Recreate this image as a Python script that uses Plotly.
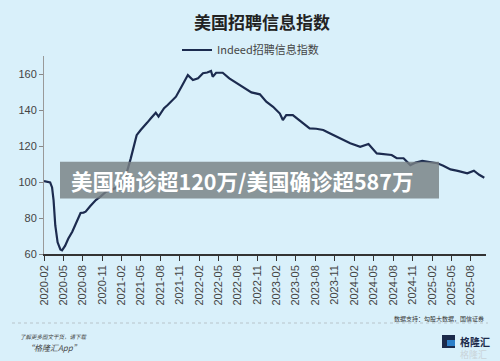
import plotly.graph_objects as go

dates = [
    "2020-02-01", "2020-02-15", "2020-03-01", "2020-03-10", "2020-03-17", "2020-03-25", "2020-04-05",
    "2020-04-18", "2020-04-26", "2020-05-10", "2020-05-25", "2020-06-13", "2020-07-01",
    "2020-07-22", "2020-08-05", "2020-08-15", "2020-09-05", "2020-10-02", "2020-10-25",
    "2020-11-19", "2020-12-10", "2021-01-04", "2021-01-20", "2021-02-06", "2021-02-25",
    "2021-03-15", "2021-04-01", "2021-04-12", "2021-05-01", "2021-05-16", "2021-06-01",
    "2021-06-18", "2021-07-11", "2021-07-24", "2021-08-19", "2021-09-05", "2021-09-21",
    "2021-10-14", "2021-11-07", "2021-11-25", "2021-12-09", "2022-01-02", "2022-01-26",
    "2022-02-18", "2022-03-10", "2022-03-28", "2022-04-05", "2022-04-21", "2022-05-22",
    "2022-06-22", "2022-07-24", "2022-08-25", "2022-10-04", "2022-11-13", "2022-12-13",
    "2023-01-14", "2023-02-15", "2023-03-01", "2023-03-17", "2023-04-17", "2023-05-19",
    "2023-07-05", "2023-08-05", "2023-09-07", "2023-10-05", "2023-11-09", "2023-12-10",
    "2024-01-12", "2024-02-28", "2024-04-07", "2024-05-16", "2024-06-15", "2024-07-25",
    "2024-08-18", "2024-09-19", "2024-10-21", "2024-11-15", "2024-12-16", "2025-01-20",
    "2025-02-25", "2025-03-25", "2025-04-28", "2025-06-01", "2025-07-16", "2025-08-16",
    "2025-09-10", "2025-10-04",
]
values = [
    100.5, 100.2, 99.8, 97.0, 90.0, 76.0, 66.5,
    62.5, 62.0, 64.5, 68.5, 72.4, 77.5,
    82.8, 83.0, 83.5, 86.5, 90.0, 92.0,
    94.6, 95.5, 97.0, 97.5, 100.0, 105.5,
    113.0, 120.5, 126.0, 128.9, 130.7, 133.0,
    135.4, 138.5, 136.3, 141.0, 142.8, 144.6,
    147.4, 152.5, 156.5, 159.4, 156.7, 157.6,
    160.4, 160.8, 161.7, 158.5, 160.7, 160.7,
    157.6, 155.2, 153.0, 149.8, 148.7, 144.6,
    141.8, 138.0, 134.4, 137.2, 137.2, 134.4,
    129.8, 129.6, 128.9, 127.2, 125.2, 123.2,
    121.5, 119.6, 121.1, 115.9, 115.4, 115.0,
    113.2, 113.2, 109.4, 110.8, 111.7, 111.0,
    110.4, 109.0, 107.0, 106.2, 104.8, 106.3,
    104.0, 102.4,
]

tick_vals = ["2020-02-01", "2020-05-01", "2020-08-01", "2020-11-01",
             "2021-02-01", "2021-05-01", "2021-08-01", "2021-11-01",
             "2022-02-01", "2022-05-01", "2022-08-01", "2022-11-01",
             "2023-02-01", "2023-05-01", "2023-08-01", "2023-11-01",
             "2024-02-01", "2024-05-01", "2024-08-01", "2024-11-01",
             "2025-02-01", "2025-05-01", "2025-08-01"]
tick_text = [d[:7] for d in tick_vals]
y_ticks = [60, 80, 100, 120, 140, 160]

title_text = "美国招聘信息指数"
series_name = "Indeed招聘信息指数"
banner_text = "美国确诊超120万/美国确诊超587万"
source_text = "数据支持：勾股大数据，国信证券"

BG = "#d9f0fa"
FONT = "Liberation Sans, Arial, Noto Sans CJK SC, sans-serif"
CJK = "Noto Sans CJK SC, sans-serif"

L, R, T, B = 44, 14, 56, 107
W, H = 500, 361
PW, PH = W - L - R, H - T - B


def px(x):
    return (x - L) / PW


def py(y):
    return (H - B - y) / PH


fig = go.Figure()
fig.add_trace(go.Scatter(
    x=dates, y=values, mode="lines", name=series_name,
    line=dict(color="#1c2b4f", width=2.2),
))

fig.update_layout(
    width=W, height=H,
    margin=dict(l=L, r=R, t=T, b=B),
    paper_bgcolor=BG, plot_bgcolor=BG,
    font=dict(family=FONT, size=11, color="#444"),
    showlegend=True,
    legend=dict(orientation="h", x=px(177), y=py(50), xanchor="left", yanchor="middle",
                bgcolor="rgba(0,0,0,0)", font=dict(family=CJK, size=11, color="#444"),
                itemwidth=30),
    xaxis=dict(
        type="date", range=["2020-02-01", "2025-10-12"],
        tickmode="array", tickvals=tick_vals, ticktext=tick_text,
        tickangle=-90, ticks="outside", ticklen=5, tickcolor="#333",
        showline=True, linecolor="#333", linewidth=1.5,
        showgrid=False, zeroline=False,
        tickfont=dict(family=FONT, size=11, color="#444"),
    ),
    yaxis=dict(
        range=[60, 170], tickmode="array", tickvals=y_ticks,
        ticks="outside", ticklen=4, tickcolor="#888",
        showline=True, linecolor="#999", linewidth=1,
        showgrid=False, zeroline=False,
        tickfont=dict(family=FONT, size=11, color="#444"),
    ),
)

shapes = [
    dict(type="rect", xref="paper", yref="paper", x0=px(60), x1=px(439), y0=py(198.5), y1=py(161.7),
         fillcolor="rgba(120,128,132,0.82)", line=dict(width=0), layer="above"),
    dict(type="line", xref="paper", yref="paper", x0=px(12), x1=px(488), y0=py(323), y1=py(323),
         line=dict(color="#b8c4ca", width=1, dash="dot")),
    dict(type="rect", xref="paper", yref="paper", x0=px(442), x1=px(455), y0=py(348), y1=py(335),
         fillcolor="#1b2a4a", line=dict(width=0)),
    dict(type="rect", xref="paper", yref="paper", x0=px(447), x1=px(455), y0=py(346), y1=py(340),
         fillcolor="#2d7fc8", line=dict(width=0)),
]
fig.update_layout(shapes=shapes)

ann = [
    dict(text="<b>" + title_text + "</b>", x=px(262), y=py(21), font=dict(family=CJK, size=17, color="#222"),
         xanchor="center", yanchor="middle"),
    dict(text="<b>" + banner_text + "</b>", x=px(69), y=py(180), font=dict(family=CJK, size=21.5, color="white"),
         xanchor="left", yanchor="middle"),
    dict(text=source_text, x=px(486), y=py(318), font=dict(family=CJK, size=6, color="#333"),
         xanchor="right", yanchor="middle"),
    dict(text="<i>了解更多图文干货，请下载</i>", x=px(18), y=py(336.5), font=dict(family=CJK, size=5.5, color="#444"),
         xanchor="left", yanchor="middle"),
    dict(text="<i>“格隆汇App”</i>", x=px(24), y=py(347.5), font=dict(family=CJK, size=8, color="#444"),
         xanchor="left", yanchor="middle"),
    dict(text="<b>格隆汇</b>", x=px(458), y=py(341.5), font=dict(family=CJK, size=10, color="#1b2a4a"),
         xanchor="left", yanchor="middle"),
    dict(text="格隆汇", x=px(458), y=py(355), font=dict(family=CJK, size=9, color="#c9d3d8"),
         xanchor="left", yanchor="middle"),
]
for a in ann:
    a.update(xref="paper", yref="paper", showarrow=False)
fig.update_layout(annotations=ann)

fig.write_html("out.html", config={"displayModeBar": False},
               post_script="document.body.style.margin='0';document.body.style.background='" + BG + "';")
